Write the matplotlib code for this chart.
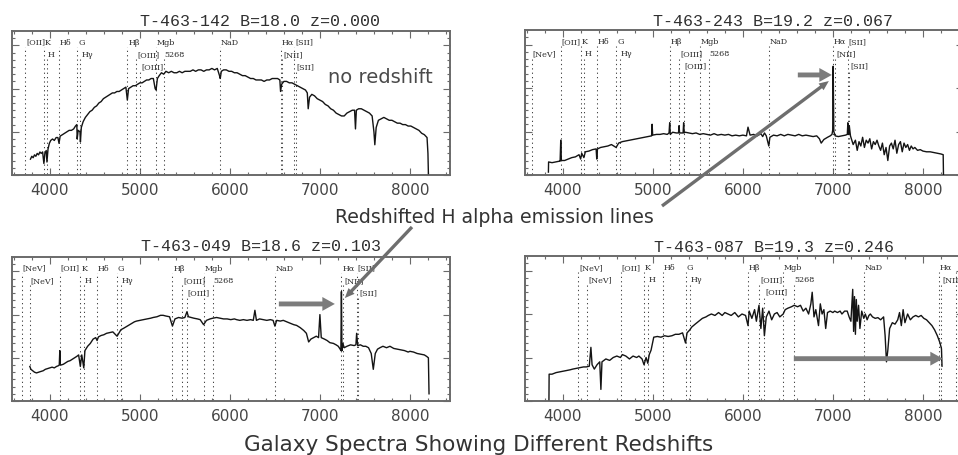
import matplotlib
matplotlib.use("Agg")
import matplotlib.pyplot as plt
from matplotlib.ticker import MultipleLocator

# ---------------------------------------------------------------- data
titles = ["T-463-142 B=18.0 z=0.000", "T-463-243 B=19.2 z=0.067",
          "T-463-049 B=18.6 z=0.103", "T-463-087 B=19.3 z=0.246"]
redshifts = [0.000, 0.067, 0.103, 0.246]
xtick_values = [4000, 5000, 6000, 7000, 8000]

# spectral features: label, rest wavelength (A), label row
line_names = ["[NeV]", "[NeV]", "[OII]", "K", "H", "Hδ", "G", "Hγ", "Hβ",
              "[OIII]", "[OIII]", "Mgb", "5268", "NaD", "Hα", "[NII]",
              "[SII]", "[SII]"]
line_rest = [3346, 3426, 3727, 3934, 3968, 4102, 4304, 4340, 4861,
             4959, 5007, 5175, 5268, 5893, 6563, 6583, 6716, 6731]
line_row = [1, 2, 1, 1, 2, 1, 1, 2, 1, 2, 3, 1, 2, 1, 1, 2, 1, 3]

# T-463-142 (z = 0.000)
wl1 = [3785, 3800, 3815, 3830, 3845, 3860, 3875, 3890, 3905, 3920, 3934, 3945,
       3960, 3968, 3980, 3995, 4010, 4030, 4050, 4070, 4090, 4102, 4115, 4140,
       4165, 4190, 4215, 4240, 4265, 4285, 4300, 4304, 4315, 4335, 4340, 4350,
       4370, 4395, 4420, 4445, 4470, 4495, 4520, 4545, 4570, 4595, 4620, 4645,
       4670, 4695, 4720, 4745, 4770, 4795, 4820, 4845, 4861, 4875, 4900, 4925,
       4950, 4975, 5000, 5025, 5050, 5075, 5100, 5125, 5150, 5170, 5180, 5195,
       5215, 5240, 5265, 5290, 5320, 5350, 5380, 5410, 5440, 5470, 5500, 5530,
       5560, 5590, 5620, 5650, 5680, 5710, 5740, 5770, 5800, 5830, 5860, 5885,
       5893, 5905, 5930, 5960, 5990, 6020, 6050, 6080, 6110, 6140, 6170, 6200,
       6230, 6260, 6290, 6320, 6350, 6380, 6410, 6440, 6470, 6500, 6530, 6555,
       6563, 6575, 6600, 6630, 6660, 6690, 6720, 6750, 6780, 6810, 6840, 6860,
       6870, 6885, 6910, 6940, 6970, 7000, 7030, 7060, 7090, 7120, 7150, 7180,
       7210, 7240, 7270, 7300, 7330, 7360, 7385, 7395, 7405, 7430, 7460, 7490,
       7520, 7550, 7580, 7600, 7610, 7625, 7650, 7680, 7710, 7740, 7770, 7800,
       7830, 7860, 7890, 7920, 7950, 7980, 8010, 8040, 8070, 8100, 8130, 8160,
       8190, 8200, 8205]
fx1 = [11, 13, 12, 14, 13, 15, 14, 16, 15, 16, 8, 15,
       17, 9, 18, 22, 24, 25, 24, 26, 26, 22, 27, 28,
       29, 30, 31, 31, 32, 34, 35, 25, 31, 30, 23, 33,
       37, 40, 42, 44, 45, 47, 48, 50, 51, 53, 54, 55,
       56, 57, 57, 58, 58, 59, 60, 61, 52, 60, 61, 62,
       62, 63, 64, 64, 65, 66, 66, 67, 67, 60, 59, 67,
       69, 71, 70, 72, 71, 72, 71, 71, 72, 71, 72, 72,
       72, 73, 72, 73, 73, 72, 73, 73, 74, 73, 74, 69,
       67, 72, 73, 73, 72, 72, 71, 71, 70, 69, 69, 68,
       67, 67, 66, 66, 66, 65, 66, 66, 67, 67, 67, 66,
       58, 63, 65, 65, 64, 64, 63, 62, 61, 60, 59, 57,
       46, 54, 56, 55, 53, 52, 51, 49, 48, 46, 45, 43,
       42, 41, 41, 43, 44, 45, 45, 32, 45, 46, 46, 45,
       44, 43, 41, 30, 21, 33, 38, 39, 40, 39, 38, 38,
       37, 36, 36, 35, 35, 34, 34, 33, 32, 31, 29, 28,
       26, 15, 1]

# T-463-243 (z = 0.067)
wl2 = [3840, 3842, 3880, 3920, 3960, 3970, 3977, 3984, 4020, 4060, 4100, 4140,
       4180, 4198, 4210, 4234, 4250, 4290, 4330, 4370, 4377, 4385, 4420, 4460,
       4500, 4540, 4592, 4620, 4660, 4700, 4740, 4780, 4820, 4860, 4900, 4940,
       4980, 4986, 4992, 4998, 5040, 5080, 5120, 5160, 5180, 5187, 5194, 5220,
       5260, 5285, 5291, 5297, 5310, 5336, 5342, 5348, 5360, 5400, 5440, 5480,
       5520, 5560, 5600, 5640, 5680, 5720, 5760, 5800, 5840, 5880, 5920, 5960,
       6000, 6040, 6057, 6080, 6120, 6160, 6200, 6220, 6240, 6260, 6288, 6300,
       6340, 6380, 6420, 6460, 6500, 6540, 6580, 6620, 6660, 6700, 6740, 6780,
       6820, 6850, 6870, 6900, 6940, 6970, 6990, 6998, 7003, 7010, 7025, 7060,
       7100, 7140, 7160, 7166, 7174, 7182, 7195, 7225, 7250, 7270, 7290, 7310,
       7330, 7350, 7370, 7390, 7410, 7430, 7450, 7470, 7490, 7510, 7530, 7550,
       7570, 7590, 7610, 7630, 7650, 7670, 7690, 7710, 7730, 7750, 7770, 7790,
       7810, 7830, 7850, 7870, 7890, 7910, 7940, 7970, 8000, 8040, 8080, 8120,
       8160, 8200, 8225, 8228]
fx2 = [2, 9, 8.5, 9, 9.5, 9.5, 24, 10, 10, 11, 12, 12.5,
       14, 11, 15, 12, 16, 16.5, 17.5, 18, 11, 18, 19, 19.5,
       20, 21, 19, 22, 23, 23.5, 24, 24.5, 25, 25.5, 26, 26.5,
       27, 27, 35, 27.5, 28, 28, 28.5, 28, 29, 36, 28, 29.5,
       29, 29, 34, 29, 29, 29, 36, 29, 29.5, 29, 28.5, 29,
       28, 28.5, 28, 27.5, 28.5, 27.5, 28, 27.5, 28, 27, 27.5, 27,
       27.5, 27, 33, 27.5, 28, 27, 28.5, 26.5, 29, 27, 20, 26,
       27.5, 27, 28, 27, 28, 27.5, 27, 28, 27, 27.5, 27, 26.5,
       27, 25, 22, 24.5, 26, 27, 28, 31, 75, 30, 27, 26.5,
       27, 27.5, 28, 36, 28, 34, 27, 21, 24, 17, 23, 20,
       26, 19, 24, 22, 25, 18, 23, 21, 24, 20, 17, 22,
       14, 19, 10, 20, 22, 18, 24, 15, 21, 23, 16, 22,
       19, 21, 17, 20, 18, 19, 17, 17.5, 16.5, 16, 16, 15.5,
       15, 14.5, 14, 0.5]

# T-463-049 (z = 0.103)
wl3 = [3778, 3790, 3810, 3830, 3852, 3875, 3900, 3926, 3950, 3975, 4000, 4025,
       4050, 4075, 4095, 4105, 4111, 4117, 4125, 4150, 4175, 4200, 4225, 4250,
       4275, 4300, 4320, 4339, 4355, 4377, 4390, 4420, 4450, 4481, 4510, 4525,
       4540, 4570, 4600, 4630, 4667, 4700, 4747, 4790, 4820, 4860, 4900, 4940,
       4963, 5000, 5040, 5080, 5120, 5148, 5190, 5230, 5259, 5290, 5330, 5362,
       5390, 5430, 5470, 5500, 5523, 5540, 5570, 5600, 5640, 5670, 5708, 5740,
       5780, 5810, 5852, 5890, 5930, 5970, 6010, 6050, 6074, 6110, 6150, 6190,
       6230, 6260, 6278, 6295, 6330, 6370, 6410, 6450, 6480, 6500, 6520, 6560,
       6593, 6630, 6670, 6710, 6741, 6780, 6820, 6850, 6875, 6900, 6930, 6960,
       6985, 7000, 7015, 7050, 7080, 7111, 7150, 7180, 7204, 7225, 7233, 7239,
       7245, 7255, 7270, 7300, 7340, 7380, 7400, 7408, 7420, 7450, 7481, 7510,
       7540, 7570, 7593, 7615, 7640, 7667, 7700, 7740, 7778, 7820, 7860, 7900,
       7940, 7980, 8000, 8040, 8080, 8120, 8160, 8185, 8205, 8212]
fx3 = [24, 22, 21, 20, 19.5, 20, 20.5, 21, 22, 22.5, 23, 23.5,
       23, 24, 24.5, 25, 35, 25, 25, 25.5, 26.5, 27.5, 28, 29,
       30, 31, 32, 24, 32, 23, 35, 38, 40, 43, 44, 42,
       44.5, 45.5, 46, 47, 47.5, 48, 45, 49.5, 50.5, 52, 53.5, 55,
       55.5, 56, 56.5, 57, 57.5, 58, 58.5, 59.5, 59.5, 59, 58.5, 52,
       57, 58, 57.5, 58, 62, 58.5, 58, 57.5, 57, 56.5, 53, 56,
       57, 57.5, 58, 57.5, 57, 57, 56.5, 57, 56.5, 56, 56.5, 56,
       56.5, 56, 63, 56, 57, 56.5, 56, 56.5, 56, 52, 56, 55.5,
       56, 55, 54, 53, 52.5, 51, 49, 47, 41, 43, 44, 45,
       44, 60, 44, 43, 42, 40.5, 40, 39, 38, 36, 35, 76,
       35, 40, 37, 38, 39, 38.5, 39, 47, 38.5, 39, 38, 38,
       37, 33, 22, 33, 36, 37, 38, 37, 38, 36.5, 36, 35.5,
       35, 34, 34.5, 34, 33, 32.5, 32, 31, 30, 5]

# T-463-087 (z = 0.246)
wl4 = [3846, 3848, 3880, 3926, 3960, 4000, 4040, 4080, 4110, 4150, 4190, 4230,
       4260, 4294, 4312, 4325, 4350, 4380, 4410, 4423, 4435, 4478, 4520, 4560,
       4600, 4640, 4661, 4700, 4740, 4780, 4820, 4845, 4880, 4902, 4925, 4944,
       4960, 4980, 5010, 5050, 5090, 5130, 5170, 5212, 5250, 5290, 5330, 5363,
       5380, 5410, 5432, 5470, 5510, 5550, 5590, 5616, 5650, 5690, 5730, 5770,
       5800, 5836, 5870, 5910, 5950, 5990, 6030, 6057, 6070, 6100, 6130, 6150,
       6179, 6200, 6220, 6239, 6260, 6290, 6320, 6350, 6380, 6410, 6448, 6470,
       6500, 6540, 6570, 6608, 6640, 6670, 6700, 6730, 6755, 6770, 6790, 6810,
       6840, 6860, 6880, 6900, 6920, 6940, 6970, 7000, 7020, 7050, 7080, 7100,
       7130, 7159, 7180, 7200, 7220, 7230, 7240, 7250, 7260, 7270, 7285, 7300,
       7320, 7343, 7360, 7380, 7400, 7416, 7440, 7470, 7500, 7530, 7563, 7580,
       7595, 7610, 7630, 7660, 7690, 7720, 7740, 7760, 7780, 7800, 7830, 7860,
       7890, 7920, 7950, 7980, 8010, 8040, 8070, 8100, 8130, 8160, 8190, 8206,
       8212]
fx4 = [1, 18.5, 18.5, 19.6, 20, 20.5, 21, 21.5, 22, 22.5, 23, 23.5,
       23.5, 24, 37, 25, 22, 25, 27, 8, 27, 29, 28, 30,
       31, 30, 32, 31, 29, 31, 30, 31, 29, 25, 30, 26,
       32, 35, 44, 44.5, 44, 45, 44.5, 45, 46, 46, 47, 40,
       47, 49, 51, 53, 55, 57, 58, 59, 60, 59, 61, 59,
       61, 60, 59, 61, 58, 60, 59, 52, 62, 57, 63, 55,
       66, 50, 64, 45, 58, 62, 56, 60, 61, 58, 60, 63,
       64, 65, 66, 65, 66, 62, 64, 60, 67, 75, 58, 63,
       52, 67, 60, 63, 50, 61, 62, 61, 62, 61, 62, 60,
       62, 62, 58, 55, 77, 48, 72, 46, 70, 55, 66, 50,
       62, 57, 60, 56, 59, 60, 58, 57, 57.5, 56, 58, 45,
       27, 35, 50, 54, 53, 56, 61, 52, 63, 54, 60, 56,
       58, 59, 58, 59, 57, 56, 54, 52, 49, 45, 40, 36,
       24]

spec_wl = [wl1, wl2, wl3, wl4]
spec_fx = [fx1, fx2, fx3, fx4]

# ---------------------------------------------------------------- layout
W, H = 958, 456
fig = plt.figure(figsize=(W / 100, H / 100), dpi=100)
fig.patch.set_facecolor("white")


def px_box(left, top, right, bottom):
    return [left / W, 1 - bottom / H, (right - left) / W, (bottom - top) / H]


boxes = [(12, 32, 450, 176), (525, 31, 963, 176),
         (12, 258, 450, 402), (525, 257, 963, 402)]
title_pos = [(260, 26), (773, 26), (261, 251), (774, 252)]
row_y = {1: 92.5, 2: 84.0, 3: 75.5}
XLIM = (3580, 8445)

frame_col = "#6a6a6a"
axes = []
for i, bx in enumerate(boxes):
    ax = fig.add_axes(px_box(*bx))
    axes.append(ax)
    ax.plot(spec_wl[i], spec_fx[i], color="#141414", lw=1.0, zorder=3)
    ax.set_xlim(*XLIM)
    ax.set_ylim(0, 100)
    ax.set_xticks(xtick_values)
    ax.set_xticklabels([str(v) for v in xtick_values])
    ax.xaxis.set_minor_locator(MultipleLocator(200))
    ax.yaxis.set_major_locator(MultipleLocator(30))
    ax.yaxis.set_minor_locator(MultipleLocator(5))
    ax.set_yticklabels([])
    ax.tick_params(which="both", direction="in", top=True, right=True,
                   color=frame_col, width=0.8)
    ax.tick_params(which="major", length=5)
    ax.tick_params(which="minor", length=2.5)
    ax.tick_params(axis="x", labelsize=11, labelcolor="#454545", pad=5)
    for tl in ax.get_xticklabels():
        tl.set_family("DejaVu Sans")
    for sp in ax.spines.values():
        sp.set_color(frame_col)
        sp.set_linewidth(1.4)

    # feature markers
    z = redshifts[i]
    for name, rest, row in zip(line_names, line_rest, line_row):
        lam = rest * (1 + z)
        if lam < XLIM[0] + 10:
            continue
        ax.plot([lam, lam], [0.5, row_y[row] - 3.5], color="#444444",
                lw=0.75, ls=(0, (1.2, 3.0)), zorder=2)
        if lam > XLIM[1] - 100:
            continue
        ax.text(lam + 10, row_y[row], name, fontsize=5.8,
                family="DejaVu Serif", color="#2a2a2a", ha="left",
                va="center", clip_on=False, zorder=4)

    tx, ty = title_pos[i]
    fig.text(tx / W, 1 - ty / H, titles[i], family="Liberation Mono",
             fontsize=12, color="#303030", ha="center", va="baseline")

# ---------------------------------------------------------------- notes
ax1, ax2, ax3, ax4 = axes
ax1.text((328 - 12) / 438, (176 - 83) / 144, "no redshift",
         transform=ax1.transAxes, fontsize=14, color="#4a4a4a",
         family="DejaVu Sans", ha="left", va="baseline")

fig.text(494 / W, 1 - 223 / H, "Redshifted H alpha emission lines",
         fontsize=13.6, color="#333333", family="DejaVu Sans",
         ha="center", va="baseline")
fig.text(479 / W, 1 - 451 / H, "Galaxy Spectra Showing Different Redshifts",
         fontsize=15.5, color="#333333", family="DejaVu Sans",
         ha="center", va="baseline")

arrow_col = "#7c7c7c"
thick = dict(arrowstyle="simple,head_length=0.9,head_width=1.0,tail_width=0.35",
             mutation_scale=10, color=arrow_col, shrinkA=0, shrinkB=0, lw=0)
thin = dict(arrowstyle="simple,head_length=0.7,head_width=0.6,tail_width=0.24",
            mutation_scale=10, color="#6e6e6e", shrinkA=0, shrinkB=0, lw=0)

# short arrows pointing at the H alpha emission
ax2.annotate("", xy=(6988, 69), xytext=(-34, 0),
             textcoords="offset pixels", arrowprops=thick,
             annotation_clip=False, zorder=6)
ax3.annotate("", xy=(7166, 67.4), xytext=(-56, 0),
             textcoords="offset pixels", arrowprops=thick,
             annotation_clip=False, zorder=6)
# long arrow across the z=0.246 spectrum
ax4.annotate("", xy=(8221, 29.2), xytext=(-149, 0),
             textcoords="offset pixels", arrowprops=thick,
             annotation_clip=False, zorder=6)
# pointers from the caption to the emission lines
ax2.annotate("", xy=(6955, 64.8), xytext=(662, H - 207),
             textcoords="figure pixels", arrowprops=thin,
             annotation_clip=False, zorder=6)
ax3.annotate("", xy=(7277, 71.5), xytext=(412, H - 228),
             textcoords="figure pixels", arrowprops=thin,
             annotation_clip=False, zorder=6)

fig.savefig("out.png", dpi=100, facecolor="white")
